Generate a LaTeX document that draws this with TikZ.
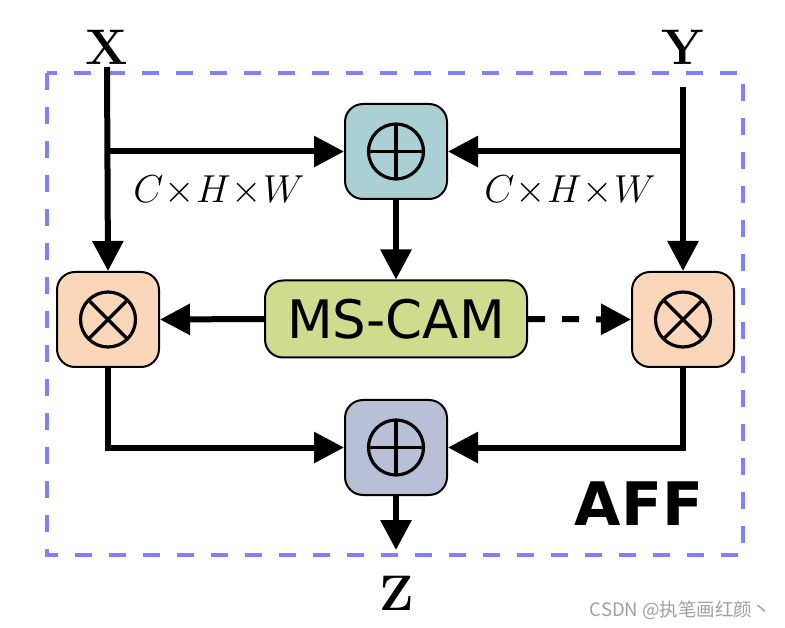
\RequirePackage{fix-cm}
\documentclass[tikz,border=0pt]{standalone}
\usepackage{fontspec}
\usetikzlibrary{arrows.meta}
\newfontfamily\djv{DejaVu Sans}
\newfontfamily\cjk{Noto Sans CJK SC}
\definecolor{tealbox}{RGB}{170,208,212}
\definecolor{peachbox}{RGB}{250,215,185}
\definecolor{greenbox}{RGB}{207,220,142}
\definecolor{bluebox}{RGB}{184,191,214}
\definecolor{dashblue}{RGB}{128,128,255}
\definecolor{wmgray}{RGB}{160,160,160}
\newcommand{\tms}{\mkern0.5mu{\times}\mkern0.5mu}
\tikzset{
  conn/.style={line width=6pt, -{Triangle[length=30pt,width=30pt]}},
  opbox/.style={draw, line width=2pt, rounded corners=18pt, minimum width=102pt, minimum height=95pt, inner sep=0pt},
  sym/.style={line width=3.2pt},
  biglabel/.style={font=\fontsize{50}{60}\selectfont\bfseries, inner sep=0pt, anchor=base},
  dimlabel/.style={font=\fontsize{39}{45}\selectfont, inner sep=0pt},
}
\begin{document}
\begin{tikzpicture}[x=1pt,y=-1pt]
\useasboundingbox (0,0) rectangle (785,628);
% frame
\draw[dashblue, line width=4pt, dash pattern=on 17pt off 17pt] (47,73) rectangle (743,555);
% boxes
\node[opbox, fill=tealbox] (tp) at (396,151.5) {};
\node[opbox, fill=peachbox] (lo) at (108,319.5) {};
\node[opbox, fill=peachbox] (ro) at (683,319.5) {};
\node[opbox, fill=bluebox] (bp) at (396,447.5) {};
\node[draw, line width=2pt, rounded corners=18pt, fill=greenbox, minimum width=262pt, minimum height=77pt, inner sep=0pt,
      font=\djv\fontsize{53}{60}\selectfont] (ms) at (396,319) {MS-CAM};
% symbols
\foreach \n in {tp,bp}{
  \draw[sym] (\n.center) circle (27.5pt);
  \draw[sym] ([xshift=-27.5pt]\n.center) -- ([xshift=27.5pt]\n.center);
  \draw[sym] ([yshift=-27.5pt]\n.center) -- ([yshift=27.5pt]\n.center);
}
\foreach \n in {lo,ro}{
  \draw[sym] (\n.center) circle (27.5pt);
  \draw[sym] ([shift={(-19.45pt,-19.45pt)}]\n.center) -- ([shift={(19.45pt,19.45pt)}]\n.center);
  \draw[sym] ([shift={(-19.45pt,19.45pt)}]\n.center) -- ([shift={(19.45pt,-19.45pt)}]\n.center);
}
% labels
\node[biglabel] (X) at (107,65) {X};
\node[biglabel] (Y) at (683,65) {Y};
\node[biglabel] (Z) at (397,610) {Z};
\node[font=\djv\fontsize{60}{70}\selectfont\bfseries, inner sep=0pt, anchor=base] (aff) at (639,525) {AFF};
\node[dimlabel] (cl) at (219,191) {$C\tms H\tms W$};
\node[dimlabel] (cr) at (570,191) {$C\tms H\tms W$};
\node[font=\cjk\fontsize{18.5}{20}\selectfont, text=wmgray, inner sep=0pt, anchor=east] (wm) at (771,610) {CSDN @执笔画红颜丶};
% connectors
\coordinate (xs) at (107,67);
\coordinate (xb) at (107,151.5);
\coordinate (ys) at (683,87);
\coordinate (yb) at (683,151.5);
\coordinate (zt) at (396,550);
\draw[conn] (xs) -- (lo.north);
\draw[conn] (xb) -- (tp.west);
\draw[conn] (ys) -- (ro.north);
\draw[conn] (yb) -- (tp.east);
\draw[conn] (tp.south) -- (ms.north);
\draw[conn] (ms.west) -- (lo.east);
\draw[conn, dash pattern=on 17pt off 17pt] (ms.east) -- (ro.west);
\draw[conn] (lo.south) |- (bp.west);
\draw[conn] (ro.south) |- (bp.east);
\draw[conn] (bp.south) -- (zt);
\end{tikzpicture}
\end{document}
